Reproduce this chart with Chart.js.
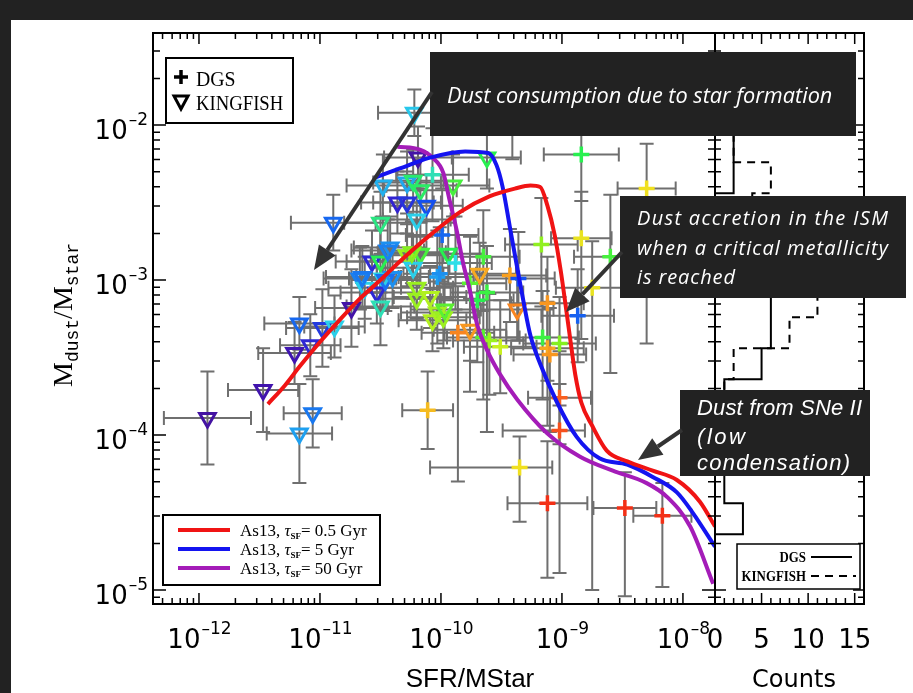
<!DOCTYPE html>
<html>
<head>
<meta charset="utf-8">
<title>Mdust/Mstar vs SFR/MStar</title>
<script src="https://cdn.jsdelivr.net/npm/chart.js@4.4.1/dist/chart.umd.min.js"></script>
<style>
  html, body { margin: 0; padding: 0; background: #222; }
  #wrap { position: relative; width: 913px; height: 693px; }
  #wrap canvas { position: absolute; left: 0; top: 0; }
</style>
</head>
<body>
<div id="wrap">
  <canvas id="mainChart" width="913" height="693"></canvas>
  <canvas id="histChart" width="913" height="693"></canvas>
</div>
<script>
// axis ranges, log10
const xLogRange = [-12.38, -7.735];
const yLogRange = [-5.09, -1.406];
const countRange = [0, 16];

// DGS galaxies: log SFR/MStar, log Mdust/Mstar, colour index (metallicity, 0..1), errors in dex
const dgsLogSSFR = [-9.41, -8.84, -8.30, -8.84, -9.17, -9.99, -10.07, -9.65, -9.43, -9.36, -10.03, -9.88, -9.76, -9.62, -9.70, -9.12, -8.87, -9.16, -9.02, -9.12, -9.10, -9.86, -9.65, -9.60, -9.51, -10.11, -9.02, -9.02, -9.35, -9.12, -8.48, -8.17, -8.75, -10.01, -8.60];
const dgsLogRatio = [-1.92, -2.19, -2.41, -2.73, -2.77, -2.71, -2.32, -2.85, -2.97, -2.99, -2.98, -2.89, -3.02, -3.08, -3.13, -3.15, -3.23, -3.37, -3.41, -3.44, -3.48, -3.34, -3.37, -3.39, -3.43, -3.84, -3.76, -3.97, -4.21, -4.44, -4.47, -4.52, -3.05, -2.96, -2.85];
const dgsMetal = [.75, .55, .76, .75, .65, .25, .45, .58, .83, .22, .32, .40, .60, .57, .55, .84, .24, .57, .64, .82, .84, .86, .60, .66, .70, .80, .90, .92, .76, .96, .96, .96, .75, .30, .58];
const dgsErrXlo = [.30, .31, .24, .25, .30, .30, .30, .30, .30, .30, .30, .30, .30, .30, .30, .30, .30, .30, .30, .30, .30, .30, .30, .30, .30, .21, .26, .47, .74, .33, .26, .24, .30, .30, .30];
const dgsErrXhi = [.30, .31, .24, .25, .30, .30, .30, .30, .30, .30, .30, .30, .30, .30, .30, .30, .30, .30, .30, .30, .30, .30, .30, .30, .30, .21, .26, .21, .27, .33, .26, .24, .30, .30, .30];
const dgsErrYlo = [.30, .30, 1.00, .65, .40, .30, .30, .35, .30, .40, .30, .30, .70, .90, .40, .50, .30, .40, .40, .50, .50, .96, .40, .35, .30, .25, .30, .92, .35, .48, .57, .46, 1.95, .30, .75];
const dgsErrYhi = [.25, .30, .29, .30, .30, .30, .30, .30, .30, .30, .30, .30, .30, .30, .30, .30, .30, .30, .30, .30, .30, .30, .30, .30, .30, .25, .30, .30, .20, .40, .23, .21, .30, .30, .40];

// KINGFISH galaxies
const kfLogSSFR = [-11.93, -11.47, -11.17, -11.21, -11.08, -10.98, -10.88, -10.74, -11.06, -11.17, -10.22, -10.19, -10.89, -10.48, -10.28, -10.23, -10.17, -10.36, -10.28, -10.12, -10.50, -10.20, -10.42, -10.57, -10.50, -10.28, -10.17, -10.67, -10.48, -10.53, -10.20, -10.50, -10.20, -10.09, -10.07, -9.98, -9.62, -9.90, -9.94, -9.68, -9.37, -9.76, -10.63, -10.46, -10.40, -10.23, -10.24, -10.65, -10.03, -9.97, -10.44];
const kfLogRatio = [-3.89, -3.71, -3.28, -3.47, -3.42, -3.31, -3.30, -3.18, -3.86, -3.99, -1.92, -2.21, -2.63, -2.39, -2.37, -2.36, -2.42, -2.50, -2.50, -2.52, -2.63, -2.61, -2.79, -2.88, -2.88, -2.84, -2.83, -2.99, -2.99, -3.08, -3.05, -3.17, -3.12, -3.11, -3.26, -3.24, -2.21, -2.39, -2.83, -2.96, -3.19, -3.32, -3.05, -3.00, -2.98, -2.92, -2.82, -2.98, -3.21, -3.19, -2.81];
const kfMetal = [.05, .07, .25, .08, .15, .18, .38, .06, .27, .32, .37, .06, .25, .34, .33, .52, .53, .14, .17, .22, .50, .38, .30, .15, .55, .66, .58, .28, .38, .15, .66, .45, .66, .68, .68, .66, .55, .58, .55, .82, .86, .84, .38, .26, .30, .38, .64, .27, .67, .60, .28];
const kfErrX = [.36, .29, .29, .30, .25, .30, .25, .30, .24, .27, .30, .28, .35, .30, .28, .25, .30, .30, .28, .30, .30, .28, .30, .30, .28, .30, .30, .30, .28, .30, .30, .28, .30, .30, .28, .30, .28, .30, .30, .30, .30, .30, .30, .28, .30, .30, .28, .30, .30, .28, .30];
const kfErrY = [.30, .27, .17, .20, .20, .25, .20, .25, .22, .32, .15, .20, .18, .20, .20, .20, .20, .20, .20, .20, .20, .20, .20, .20, .20, .20, .20, .20, .20, .20, .20, .25, .20, .20, .20, .20, .20, .20, .20, .20, .20, .20, .20, .20, .20, .20, .20, .20, .20, .20, .20];

// As13 model tracks (log SFR/MStar, log Mdust/Mstar)
const modelTauGyr = ['0.5', '5', '50'];
const redLogSSFR = [-11.43, -11.29, -11.17, -11.0, -10.84, -10.67, -10.50, -10.34, -10.09, -9.84, -9.60, -9.39, -9.26, -9.18, -9.12, -9.06, -9.01, -8.97, -8.93, -8.89, -8.84, -8.75, -8.63, -8.46, -8.25, -8.05, -7.86, -7.735];
const redLogRatio = [-3.80, -3.68, -3.56, -3.40, -3.26, -3.12, -3.00, -2.88, -2.71, -2.56, -2.46, -2.41, -2.39, -2.40, -2.52, -2.71, -2.94, -3.16, -3.39, -3.61, -3.79, -3.94, -4.10, -4.17, -4.23, -4.29, -4.43, -4.59];
const blueLogSSFR = [-10.55, -10.34, -10.09, -9.80, -9.61, -9.54, -9.49, -9.43, -9.37, -9.32, -9.26, -9.18, -9.04, -8.88, -8.69, -8.46, -8.25, -8.05, -7.92, -7.735];
const blueLogRatio = [-2.34, -2.28, -2.21, -2.17, -2.18, -2.26, -2.40, -2.66, -2.92, -3.13, -3.36, -3.54, -3.79, -4.01, -4.15, -4.19, -4.27, -4.37, -4.50, -4.72];
const magLogSSFR = [-10.36, -10.17, -10.07, -9.98, -9.93, -9.87, -9.82, -9.76, -9.70, -9.62, -9.51, -9.37, -9.12, -8.85, -8.58, -8.30, -8.13, -7.94, -7.75];
const magLogRatio = [-2.14, -2.16, -2.21, -2.31, -2.48, -2.68, -2.88, -3.07, -3.29, -3.45, -3.61, -3.77, -3.99, -4.14, -4.23, -4.31, -4.40, -4.59, -4.96];

// histogram of log Mdust/Mstar (bin edges) and counts
const histLogEdges = [-4.64, -4.44, -4.24, -4.04, -3.84, -3.64, -3.44, -3.24, -3.04, -2.84, -2.64, -2.44, -2.24, -2.04, -1.84];
const histDgs = [3, 1, 1, 2, 1, 5, 6, 6, 4, 4, 0, 2, 2, 1];
const histKf = [0, 0, 0, 1, 1, 2, 8, 11, 10, 7, 4, 6, 2, 1];
const countTicks = [0, 5, 10, 15];

const SERIF = '"Liberation Serif", "DejaVu Serif", serif';
const SANS = '"Liberation Sans", Arial, sans-serif';
const NUM = '"DejaVu Sans", sans-serif';
const MONO = '"Liberation Mono", "DejaVu Sans Mono", monospace';

const rainbowStops = [
  [0.00, [75, 15, 135]], [0.12, [58, 24, 200]], [0.22, [20, 80, 240]], [0.32, [30, 160, 240]],
  [0.40, [46, 222, 232]], [0.47, [46, 224, 160]], [0.55, [40, 240, 80]], [0.63, [122, 240, 32]],
  [0.70, [200, 240, 32]], [0.76, [240, 224, 32]], [0.83, [248, 160, 32]], [0.90, [248, 96, 32]],
  [1.00, [240, 16, 16]]
];
function rainbow(t) {
  for (let i = 1; i < rainbowStops.length; i++) {
    const [t1, c1] = rainbowStops[i];
    if (t <= t1) {
      const [t0, c0] = rainbowStops[i - 1];
      const f = (t - t0) / (t1 - t0);
      return 'rgb(' + c0.map((v, k) => Math.round(v + (c1[k] - v) * f)).join(',') + ')';
    }
  }
  return 'rgb(240,16,16)';
}

const pow10 = v => Math.pow(10, v);
const track = (xs, ys) => xs.map((v, i) => ({ x: pow10(v), y: pow10(ys[i]) }));

function logTicks(lo, hi) {
  const out = [];
  for (let e = Math.floor(lo); e <= Math.ceil(hi); e++) {
    for (let m = 1; m < 10; m++) {
      const l = e + Math.log10(m);
      if (l >= lo - 1e-9 && l <= hi + 1e-9) out.push({ value: pow10(l), major: m === 1, exp: e });
    }
  }
  return out;
}

function powLabel(ctx, exp, x, baseY, align) {
  ctx.font = '26px ' + NUM;
  const wb = ctx.measureText('10').width;
  const sup = '\u2013' + Math.abs(exp);
  ctx.font = '17px ' + NUM;
  const ws = ctx.measureText(sup).width;
  const x0 = align === 'center' ? x - (wb + ws) / 2 : x - wb - ws;
  ctx.textAlign = 'left';
  ctx.textBaseline = 'alphabetic';
  ctx.font = '26px ' + NUM;
  ctx.fillText('10', x0, baseY);
  ctx.font = '17px ' + NUM;
  ctx.fillText(sup, x0 + wb + 1, baseY - 14);
}

function condensedText(ctx, text, x, y, font, sx, align) {
  ctx.save();
  ctx.font = font;
  const w = ctx.measureText(text).width * sx;
  const x0 = align === 'right' ? x - w : x;
  ctx.translate(x0, y);
  ctx.scale(sx, 1);
  ctx.textAlign = 'left';
  ctx.fillText(text, 0, 0);
  ctx.restore();
}

// spreads a line of text over a given width with letter spacing
function spacedLine(ctx, text, x, y, width) {
  ctx.save();
  if ('letterSpacing' in ctx) {
    ctx.letterSpacing = '0px';
    const natural = ctx.measureText(text).width;
    const ls = Math.max(0, (width - natural) / (text.length - 1));
    ctx.letterSpacing = ls.toFixed(2) + 'px';
  }
  ctx.fillText(text, x, y);
  ctx.restore();
}

function arrow(ctx, x0, y0, x1, y1) {
  const a = Math.atan2(y1 - y0, x1 - x0);
  const head = 24, half = 10;
  const bx = x1 - head * Math.cos(a), by = y1 - head * Math.sin(a);
  ctx.beginPath(); ctx.moveTo(x0, y0); ctx.lineTo(bx, by); ctx.stroke();
  ctx.beginPath();
  ctx.moveTo(x1, y1);
  ctx.lineTo(bx + half * Math.sin(a), by - half * Math.cos(a));
  ctx.lineTo(bx - half * Math.sin(a), by + half * Math.cos(a));
  ctx.closePath(); ctx.fill();
}

// draws the gray error bars of every dataset that carries them
const errorBars = {
  id: 'errorBars',
  beforeDatasetsDraw(chart) {
    const { ctx, chartArea: a, scales: { x, y } } = chart;
    ctx.save();
    ctx.beginPath(); ctx.rect(a.left, a.top, a.right - a.left, a.bottom - a.top); ctx.clip();
    ctx.strokeStyle = '#6f6f6f';
    ctx.lineWidth = 2;
    const cap = 7;
    chart.data.datasets.slice().reverse().forEach(ds => {
      if (!ds.errorBars) return;
      ds.data.forEach((p, i) => {
        const e = ds.errorBars[i];
        const px = x.getPixelForValue(p.x), py = y.getPixelForValue(p.y);
        const x0 = x.getPixelForValue(p.x / pow10(e.xlo)), x1 = x.getPixelForValue(p.x * pow10(e.xhi));
        const y0 = y.getPixelForValue(p.y / pow10(e.ylo)), y1 = y.getPixelForValue(p.y * pow10(e.yhi));
        ctx.beginPath();
        ctx.moveTo(x0, py); ctx.lineTo(x1, py);
        ctx.moveTo(x0, py - cap); ctx.lineTo(x0, py + cap);
        ctx.moveTo(x1, py - cap); ctx.lineTo(x1, py + cap);
        ctx.moveTo(px, y0); ctx.lineTo(px, y1);
        ctx.moveTo(px - cap, y0); ctx.lineTo(px + cap, y0);
        ctx.moveTo(px - cap, y1); ctx.lineTo(px + cap, y1);
        ctx.stroke();
      });
    });
    ctx.restore();
  }
};

const mainDecor = {
  id: 'mainDecor',
  beforeDraw(chart) {
    const ctx = chart.ctx;
    ctx.save();
    ctx.fillStyle = '#222';
    ctx.fillRect(0, 0, chart.width, chart.height);
    ctx.fillStyle = '#fff';
    ctx.fillRect(11, 20, chart.width - 11, chart.height - 20);
    ctx.restore();
  },
  afterDraw(chart) {
    const { ctx, chartArea: a, scales: { x, y } } = chart;
    ctx.save();
    ctx.strokeStyle = '#000';
    ctx.lineWidth = 2;
    ctx.strokeRect(a.left, a.top, a.right - a.left, a.bottom - a.top);
    ctx.lineWidth = 1.5;
    ctx.beginPath();
    logTicks(...xLogRange).forEach(t => {
      const px = x.getPixelForValue(t.value), len = t.major ? 11 : 6;
      ctx.moveTo(px, a.bottom); ctx.lineTo(px, a.bottom - len);
      ctx.moveTo(px, a.top); ctx.lineTo(px, a.top + len);
    });
    logTicks(...yLogRange).forEach(t => {
      const py = y.getPixelForValue(t.value), len = t.major ? 13 : 7;
      ctx.moveTo(a.left, py); ctx.lineTo(a.left + len, py);
      ctx.moveTo(a.right, py); ctx.lineTo(a.right - len, py);
    });
    ctx.stroke();

    ctx.fillStyle = '#000';
    logTicks(...xLogRange).filter(t => t.major).forEach(t =>
      powLabel(ctx, t.exp, x.getPixelForValue(t.value), 648, 'center'));
    logTicks(...yLogRange).filter(t => t.major).forEach(t =>
      powLabel(ctx, t.exp, 147, y.getPixelForValue(t.value) + 14, 'right'));

    // x title
    ctx.font = '26px ' + SANS;
    ctx.textAlign = 'center';
    ctx.fillText('SFR/MStar', 470, 687);

    // y title  M_dust / M_star
    ctx.save();
    ctx.translate(67, 315);
    ctx.rotate(-Math.PI / 2);
    const parts = [
      { t: 'M', f: '28px ' + SERIF, dy: 0 },
      { t: 'dust', f: '18px ' + MONO, dy: 6 },
      { t: '/M', f: '28px ' + SERIF, dy: 0 },
      { t: 'star', f: '18px ' + MONO, dy: 6 }
    ];
    let total = 0;
    parts.forEach(p => { ctx.font = p.f; p.w = ctx.measureText(p.t).width; total += p.w; });
    let cx = -total / 2;
    ctx.textAlign = 'left';
    parts.forEach(p => { ctx.font = p.f; ctx.fillText(p.t, cx, 5 + p.dy); cx += p.w; });
    ctx.restore();

    // symbol legend, top left
    ctx.fillStyle = '#fff';
    ctx.fillRect(166, 58, 127, 65);
    ctx.lineWidth = 2;
    ctx.strokeRect(166, 58, 127, 65);
    ctx.strokeStyle = '#000';
    ctx.lineWidth = 3.5;
    ctx.beginPath();
    ctx.moveTo(174, 77); ctx.lineTo(188, 77);
    ctx.moveTo(181, 70); ctx.lineTo(181, 84);
    ctx.stroke();
    ctx.lineWidth = 3;
    ctx.beginPath();
    ctx.moveTo(174, 96); ctx.lineTo(188, 96); ctx.lineTo(181, 109); ctx.closePath();
    ctx.stroke();
    ctx.fillStyle = '#000';
    condensedText(ctx, 'DGS', 196, 86, '22px ' + SERIF, 0.9);
    condensedText(ctx, 'KINGFISH', 196, 110, '22px ' + SERIF, 0.85);

    // model legend, bottom left
    ctx.fillStyle = '#fff';
    ctx.fillRect(163, 515, 217, 70);
    ctx.strokeStyle = '#000';
    ctx.lineWidth = 2;
    ctx.strokeRect(163, 515, 217, 70);
    const modelSets = chart.data.datasets.filter(d => d.modelTau);
    modelSets.forEach((d, i) => {
      const yy = 530 + i * 19;
      ctx.strokeStyle = d.borderColor;
      ctx.lineWidth = 4;
      ctx.beginPath(); ctx.moveTo(178, yy); ctx.lineTo(230, yy); ctx.stroke();
      ctx.fillStyle = '#000';
      ctx.textAlign = 'left';
      let tx = 240;
      ctx.font = '17px ' + SERIF;
      ctx.fillText('As13, ', tx, yy + 6); tx += ctx.measureText('As13, ').width;
      ctx.font = 'italic 17px ' + SERIF;
      ctx.fillText('\u03c4', tx, yy + 6); tx += ctx.measureText('\u03c4').width;
      ctx.font = 'bold 9px ' + SERIF;
      ctx.fillText('SF', tx, yy + 9); tx += ctx.measureText('SF').width;
      ctx.font = '17px ' + SERIF;
      ctx.fillText('= ' + d.modelTau + ' Gyr', tx, yy + 6);
    });
    ctx.restore();
  }
};

const histDecor = {
  id: 'histDecor',
  afterDraw(chart) {
    const { ctx, chartArea: a, scales: { x, y } } = chart;
    ctx.save();
    ctx.strokeStyle = '#000';
    ctx.lineWidth = 2;
    ctx.strokeRect(a.left, a.top, a.right - a.left, a.bottom - a.top);
    ctx.lineWidth = 1.5;
    ctx.beginPath();
    for (let c = countRange[0]; c <= countRange[1]; c++) {
      const px = x.getPixelForValue(c), len = c % 5 === 0 ? 11 : 6;
      ctx.moveTo(px, a.bottom); ctx.lineTo(px, a.bottom - len);
      ctx.moveTo(px, a.top); ctx.lineTo(px, a.top + len);
    }
    logTicks(...yLogRange).forEach(t => {
      const py = y.getPixelForValue(t.value), len = t.major ? 11 : 6;
      ctx.moveTo(a.left, py); ctx.lineTo(a.left + len, py);
      ctx.moveTo(a.right, py); ctx.lineTo(a.right - len, py);
    });
    ctx.stroke();

    ctx.fillStyle = '#000';
    ctx.font = '26px ' + NUM;
    ctx.textAlign = 'center';
    countTicks.forEach(c => ctx.fillText(String(c), x.getPixelForValue(c), 648));
    ctx.font = '24px ' + NUM;
    ctx.fillText('Counts', 794, 687);

    // histogram legend
    ctx.fillStyle = '#fff';
    ctx.fillRect(737, 544, 123, 45);
    ctx.lineWidth = 1.5;
    ctx.strokeRect(737, 544, 123, 45);
    ctx.fillStyle = '#000';
    condensedText(ctx, 'DGS', 806, 562, 'bold 14px ' + SERIF, 0.92, 'right');
    condensedText(ctx, 'KINGFISH', 806, 581, 'bold 14px ' + SERIF, 0.92, 'right');
    ctx.lineWidth = 2;
    ctx.beginPath(); ctx.moveTo(811, 557); ctx.lineTo(852, 557); ctx.stroke();
    ctx.setLineDash([8, 6]);
    ctx.beginPath(); ctx.moveTo(811, 576); ctx.lineTo(856, 576); ctx.stroke();
    ctx.setLineDash([]);

    // annotation boxes
    ctx.fillStyle = '#222';
    ctx.fillRect(430, 52, 426, 84);
    ctx.fillRect(620, 196, 286, 102);
    ctx.fillRect(680, 390, 190, 86);
    ctx.fillStyle = '#fff';
    ctx.textAlign = 'left';
    ctx.font = 'italic 20px "Open Sans", sans-serif';
    const t1 = 'Dust consumption due to star formation';
    const s1 = 20 * 385 / ctx.measureText(t1).width;
    ctx.font = 'italic ' + s1.toFixed(1) + 'px "Open Sans", sans-serif';
    ctx.fillText(t1, 447, 103);

    ctx.font = 'italic 20px "Open Sans", sans-serif';
    spacedLine(ctx, 'Dust accretion in the ISM', 637, 225, 251);
    spacedLine(ctx, 'when a critical metallicity', 637, 255, 251);
    spacedLine(ctx, 'is reached', 637, 284, 98);

    ctx.font = 'italic 22px ' + SANS;
    spacedLine(ctx, 'Dust from SNe II', 697, 415, 165);
    spacedLine(ctx, '(low', 697, 444, 48);
    spacedLine(ctx, 'condensation)', 697, 470, 153);

    ctx.strokeStyle = '#333';
    ctx.fillStyle = '#333';
    ctx.lineWidth = 4;
    arrow(ctx, 432, 92, 314, 270);
    arrow(ctx, 622, 252, 566, 312);
    arrow(ctx, 682, 430, 638, 460);
    ctx.restore();
  }
};

const dgsPoints = dgsLogSSFR.map((v, i) => ({ x: pow10(v), y: pow10(dgsLogRatio[i]) }));
const kfPoints = kfLogSSFR.map((v, i) => ({ x: pow10(v), y: pow10(kfLogRatio[i]) }));

new Chart(document.getElementById('mainChart').getContext('2d'), {
  type: 'scatter',
  data: {
    datasets: [
      { label: 'As13, tau=0.5 Gyr', modelTau: modelTauGyr[0], data: track(redLogSSFR, redLogRatio), showLine: true,
        borderColor: '#f01414', borderWidth: 4, pointRadius: 0, cubicInterpolationMode: 'monotone' },
      { label: 'As13, tau=5 Gyr', modelTau: modelTauGyr[1], data: track(blueLogSSFR, blueLogRatio), showLine: true,
        borderColor: '#1414f0', borderWidth: 4, pointRadius: 0, cubicInterpolationMode: 'monotone' },
      { label: 'As13, tau=50 Gyr', modelTau: modelTauGyr[2], data: track(magLogSSFR, magLogRatio), showLine: true,
        borderColor: '#a41cb8', borderWidth: 4, pointRadius: 0, cubicInterpolationMode: 'monotone' },
      { label: 'DGS', data: dgsPoints,
        errorBars: dgsPoints.map((p, i) => ({ xlo: dgsErrXlo[i], xhi: dgsErrXhi[i], ylo: dgsErrYlo[i], yhi: dgsErrYhi[i] })),
        pointStyle: 'cross', pointRadius: 8, pointBorderWidth: 3.5,
        pointBorderColor: dgsMetal.map(rainbow), pointBackgroundColor: 'rgba(0,0,0,0)' },
      { label: 'KINGFISH', data: kfPoints,
        errorBars: kfPoints.map((p, i) => ({ xlo: kfErrX[i], xhi: kfErrX[i], ylo: kfErrY[i], yhi: kfErrY[i] })),
        pointStyle: 'triangle', pointRotation: 180, pointRadius: 9, pointBorderWidth: 3,
        pointBorderColor: kfMetal.map(rainbow), pointBackgroundColor: 'rgba(0,0,0,0)' }
    ]
  },
  options: {
    responsive: false,
    animation: false,
    devicePixelRatio: 1,
    events: [],
    layout: { padding: { left: 153, top: 33, right: 198, bottom: 89 } },
    scales: {
      x: { type: 'logarithmic', min: pow10(xLogRange[0]), max: pow10(xLogRange[1]), display: false },
      y: { type: 'logarithmic', min: pow10(yLogRange[0]), max: pow10(yLogRange[1]), display: false }
    },
    plugins: { legend: { display: false }, tooltip: { enabled: false } }
  },
  plugins: [mainDecor, errorBars]
});

function stepPoints(counts) {
  const pts = [{ x: 0, y: pow10(histLogEdges[0]) }];
  counts.forEach((c, i) => {
    pts.push({ x: c, y: pow10(histLogEdges[i]) });
    pts.push({ x: c, y: pow10(histLogEdges[i + 1]) });
  });
  pts.push({ x: 0, y: pow10(histLogEdges[counts.length]) });
  return pts;
}

new Chart(document.getElementById('histChart').getContext('2d'), {
  type: 'scatter',
  data: {
    datasets: [
      { label: 'DGS', data: stepPoints(histDgs), showLine: true, borderColor: '#000', borderWidth: 2, pointRadius: 0 },
      { label: 'KINGFISH', data: stepPoints(histKf), showLine: true, borderColor: '#000', borderWidth: 2,
        borderDash: [8, 6], pointRadius: 0 }
    ]
  },
  options: {
    responsive: false,
    animation: false,
    devicePixelRatio: 1,
    events: [],
    layout: { padding: { left: 715, top: 33, right: 49, bottom: 89 } },
    scales: {
      x: { type: 'linear', min: countRange[0], max: countRange[1], display: false },
      y: { type: 'logarithmic', min: pow10(yLogRange[0]), max: pow10(yLogRange[1]), display: false }
    },
    plugins: { legend: { display: false }, tooltip: { enabled: false } }
  },
  plugins: [histDecor]
});
</script>
</body>
</html>
